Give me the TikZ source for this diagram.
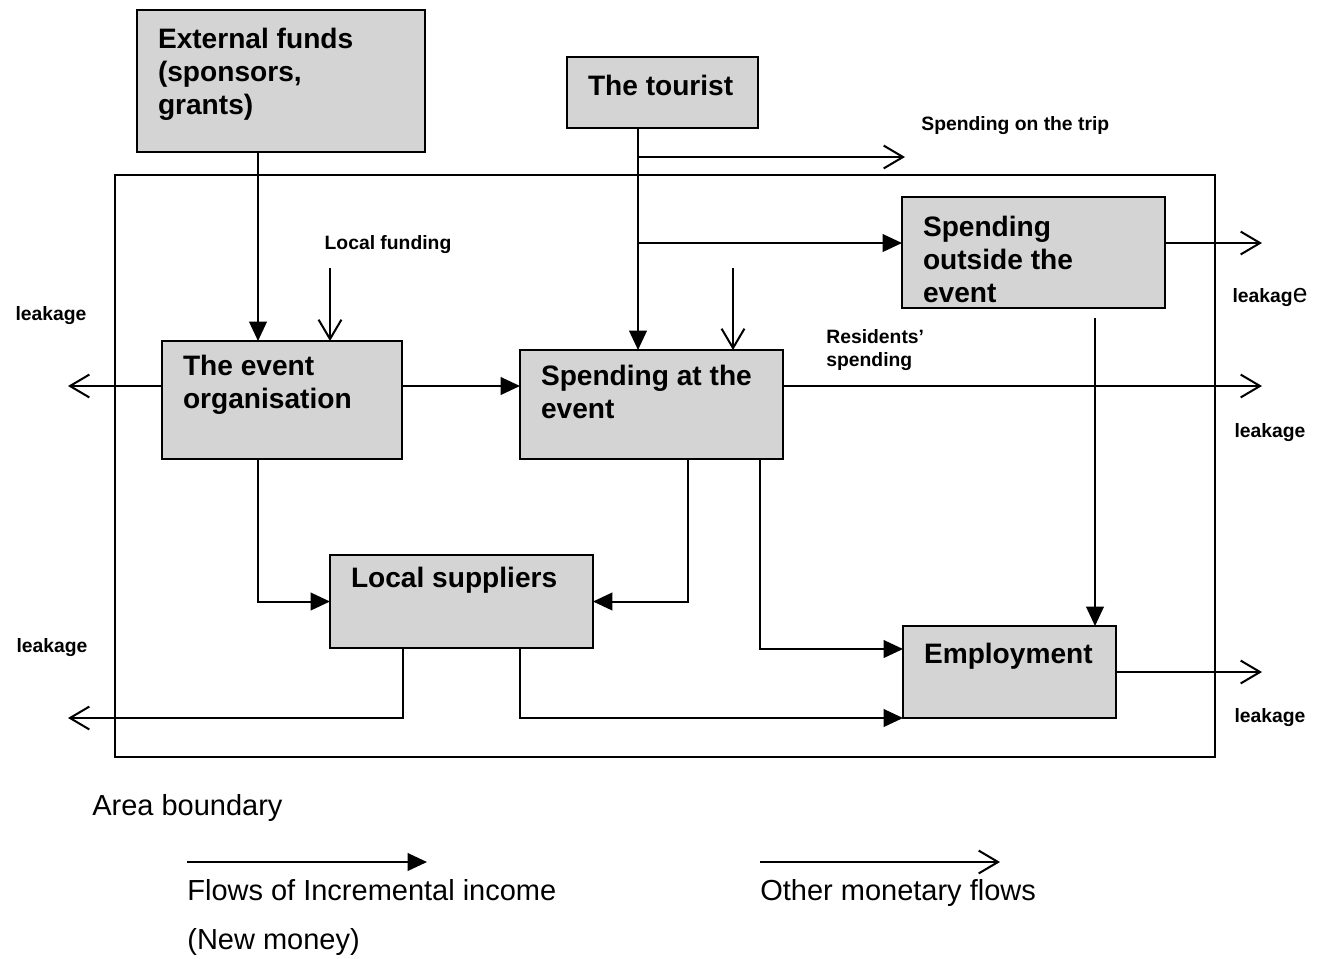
\documentclass[tikz,border=0pt]{standalone}
\usepackage{fontspec}
\setmainfont{Liberation Sans}
\usetikzlibrary{arrows.meta}
\newdimen\pxu \pxu=0.02cm
\newcommand{\bt}[4]{\parbox[c][#2\pxu][t]{#1\pxu}{\vspace*{#3\pxu}\raggedright\leftskip=21\pxu #4\par}}
\tikzset{
  box/.style={draw, line width=1.4pt, fill=black!17, inner sep=0pt, outer sep=0pt, anchor=north west,
    font=\fontsize{16}{18.7}\selectfont\bfseries},
  flow/.style={line width=1.15pt, -{Triangle[length=11pt,width=10pt]}},
  other/.style={line width=1.15pt, -{Straight Barb[length=11pt,width=13pt,line width=1.15pt]}},
  small/.style={font=\fontsize{11}{13}\selectfont\bfseries, inner sep=0pt},
  legend/.style={font=\fontsize{16.5}{19}\selectfont, inner sep=0pt, anchor=base west},
  bound/.style={line width=1.15pt}
}
\begin{document}
\begin{tikzpicture}[x=0.02cm, y=-0.02cm]
\useasboundingbox (0,0) rectangle (1322,958);
% area boundary
\draw[bound] (115,175) rectangle (1215,757);
% boxes
\node[box] (ext) at (137,10) {\bt{288}{142}{18}{External funds\\(sponsors,\\grants)}};
\node[box] (tour) at (567,57) {\bt{191}{71}{18}{The tourist}};
\node[box] (out) at (902,197) {\bt{263}{111}{19}{Spending\\outside the\\event}};
\node[box] (org) at (162,341) {\bt{240}{118}{14}{The event\\organisation}};
\node[box] (at) at (520,350) {\bt{263}{109}{15}{Spending at the\\event}};
\node[box] (sup) at (330,555) {\bt{263}{93}{12}{Local suppliers}};
\node[box] (emp) at (903,626) {\bt{213}{92}{17}{Employment}};
% free-end coordinates
\coordinate (trip) at (905,157);
\coordinate (lf) at (330,268);
\coordinate (rs) at (733,268);
\coordinate (lkL1) at (68,386);
\coordinate (lkL2) at (68,718);
\coordinate (lkR1) at (1262,243);
\coordinate (lkR2) at (1262,386);
\coordinate (lkR3) at (1262,672);
% connectors
\draw[flow] (258,0 |- ext.south) -- (258,0 |- org.north);
\draw[other] (lf) -- (lf |- org.north);
\draw[flow] (638,0 |- tour.south) -- (638,0 |- at.north);
\draw[other] (trip -| 638,0) -- (trip);
\draw[flow] (638,243) -- (out.west |- 0,243);
\draw[other] (rs) -- (rs |- at.north);
\draw[other] (org.west |- lkL1) -- (lkL1);
\draw[flow] (org.east |- 0,386) -- (at.west |- 0,386);
\draw[other] (at.east |- lkR2) -- (lkR2);
\draw[other] (out.east |- lkR1) -- (lkR1);
\draw[flow, shorten <=10\pxu] (1095,0 |- out.south) -- (1095,0 |- emp.north);
\draw[flow] (258,0 |- org.south) |- (sup.west);
\draw[flow] (688,0 |- at.south) |- (sup.east);
\draw[flow] (760,0 |- at.south) |- (emp.west |- 0,649);
\draw[other] (403,0 |- sup.south) |- (lkL2);
\draw[flow] (520,0 |- sup.south) |- (emp.south west);
\draw[other] (emp.east |- lkR3) -- (lkR3);
% labels
\node[small, anchor=west] (ltrip) at (921,126) {Spending on the trip};
\node[small] (llf) at (388,245) {Local funding};
\node[small] (lk1) at (51,316) {leakage};
\node[small, anchor=north west, align=left] (lres) at (826,329) {Residents'\\spending};
\node[small] (lk2) at (1270,297) {leakag{\fontsize{15}{15}\selectfont\mdseries e}};
\node[small] (lk3) at (1270,433) {leakage};
\node[small] (lk4) at (52,648) {leakage};
\node[small] (lk5) at (1270,718) {leakage};
% legend
\node[legend] (larea) at (92,815) {Area boundary};
\coordinate (fa) at (187,862);
\coordinate (fb) at (427,862);
\coordinate (oa) at (760,862);
\coordinate (ob) at (1000,862);
\draw[flow] (fa) -- (fb);
\draw[other] (oa) -- (ob);
\node[legend] (lflow) at (187,900) {Flows of Incremental income};
\node[legend] (lnew) at (187,949) {(New money)};
\node[legend] (loth) at (760,900) {Other monetary flows};
\end{tikzpicture}
\end{document}
